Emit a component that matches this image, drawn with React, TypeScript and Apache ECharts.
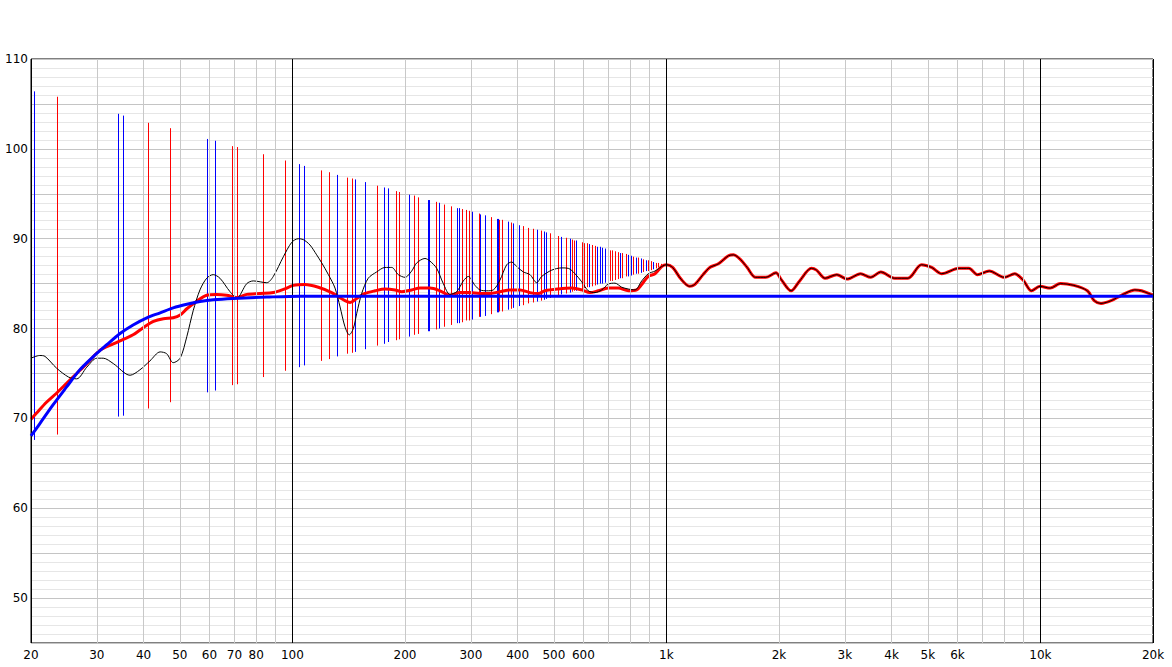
import React, { useEffect, useRef } from "react";
import * as echarts from "echarts";

// ---- data ----
// Shared response above 1 kHz (red and black coincide there)
const highBand: [number, number][] = [
  [1000, 87.1], [1039, 86.8], [1094, 85.5], [1153, 84.7], [1190, 84.9], [1253, 86.0], [1306, 86.8],
  [1377, 87.2], [1465, 88.1], [1512, 88.2], [1576, 87.7], [1644, 86.8], [1731, 85.7], [1843, 85.7],
  [1963, 86.2], [2024, 85.5], [2155, 84.2], [2271, 85.3], [2442, 86.7], [2520, 86.5], [2656, 85.6],
  [2855, 86.0], [3040, 85.5], [3304, 86.1], [3518, 85.7], [3743, 86.3], [4071, 85.6], [4424, 85.6],
  [4809, 87.1], [5118, 86.8], [5449, 86.1], [6047, 86.7], [6439, 86.7], [6785, 86.0], [7297, 86.4],
  [8013, 85.7], [8533, 86.1], [8990, 85.4], [9467, 84.2], [9975, 84.7], [10621, 84.5], [11304, 85.0],
  [12290, 84.8], [13356, 84.2], [13927, 83.1], [14522, 82.8], [15455, 83.1], [16456, 83.7],
  [17882, 84.3], [18645, 84.2], [20000, 83.7],
];

// Raw measurement (thin black) below 1 kHz
const blackLow: [number, number][] = [
  [20, 76.7], [21.1, 77.0], [21.8, 76.9], [23.4, 75.6], [25.2, 74.6], [26.5, 74.4], [28.2, 75.7],
  [30.0, 76.7], [31.2, 76.7], [33.2, 76.1], [36.8, 74.8], [39.1, 75.4], [41.6, 76.4], [44.3, 77.4],
  [46.1, 77.2], [48.0, 76.2], [50.1, 76.7], [52.2, 79.1], [54.3, 82.0], [56.6, 84.3], [59.0, 85.6],
  [61.4, 86.0], [64.0, 85.6], [68.1, 84.1], [71.0, 83.4], [75.5, 85.0], [78.6, 85.3], [85.4, 85.1],
  [88.9, 85.8], [94.6, 88.0], [99.6, 89.6], [103.7, 90.0], [106.9, 89.9], [111.4, 89.3], [116.1, 88.2],
  [119.8, 87.3], [124.8, 86.0], [130.0, 84.5], [134.1, 82.4], [138.2, 80.2], [141.9, 79.3], [145.5, 80.0],
  [148.6, 81.7], [153.2, 83.9], [159.5, 85.6], [168.0, 86.3], [176.8, 86.8], [184.3, 86.8], [191.9, 86.0],
  [200, 85.7], [208.4, 86.4], [214.9, 87.3], [226.2, 87.8], [233.3, 87.5], [243.1, 86.7], [253.2, 85.0],
  [263.8, 83.8], [275.0, 84.1], [286.4, 85.3], [295.3, 85.8], [307.8, 84.8], [317.3, 84.3], [330.8, 84.2],
  [344.5, 84.3], [358.9, 85.4], [374.1, 87.1], [385.8, 87.4], [397.8, 86.9], [414.3, 86.3], [431.7, 86.0],
  [450.0, 85.1], [464.1, 85.8], [493.6, 86.5], [524.8, 86.75], [546.6, 86.7], [569.6, 86.1], [593.7, 85.2],
  [618.1, 84.2], [644.3, 84.0], [671.4, 84.3], [699.1, 84.95], [728.7, 85.05], [759.4, 84.6], [790.9, 84.4],
  [824.3, 84.3], [859.0, 85.3], [894.5, 86.1], [932.2, 86.4], [971.4, 86.9],
];

// Corrected response (thick red) below 1 kHz
const redLow: [number, number][] = [
  [20, 69.9], [20.7, 70.6], [22.0, 71.8], [23.4, 72.8], [24.9, 73.9], [26.5, 75.0], [28.2, 76.1],
  [30.6, 77.6], [33.2, 78.3], [35.3, 78.8], [37.5, 79.3], [39.9, 80.1], [42.5, 80.8], [45.2, 81.1],
  [48.0, 81.2], [50.1, 81.5], [52.2, 82.2], [55.5, 83.05], [59.0, 83.7], [62.7, 83.8], [66.7, 83.7],
  [71.0, 83.45], [75.5, 83.8], [81.9, 83.9], [88.9, 84.0], [94.6, 84.35], [100.6, 84.8], [108.0, 84.9],
  [117.3, 84.6], [127.4, 84.0], [132.6, 83.55], [138.2, 83.1], [142.6, 82.9], [148.6, 83.35], [156.3, 83.9],
  [166.3, 84.2], [176.8, 84.4], [188.1, 84.3], [196.0, 84.1], [208.4, 84.3], [219.3, 84.5], [233.3, 84.5],
  [248.1, 84.2], [263.8, 83.7], [280.6, 84.0], [298.4, 84.0], [317.3, 83.9], [337.5, 83.9], [358.9, 84.1],
  [381.7, 84.3], [406.0, 84.3], [431.7, 84.0], [454.4, 83.9], [473.5, 84.2], [514.0, 84.4], [558.2, 84.5],
  [593.7, 84.3], [624.6, 84.0], [657.3, 84.2], [699.1, 84.5], [743.6, 84.5], [790.9, 84.2], [832.9, 84.3],
  [859.0, 84.9], [894.5, 85.8], [932.2, 86.1], [971.4, 86.9],
];

// Target curve (thick blue)
const blueTarget: [number, number][] = [
  [20, 68.05], [21.1, 69.4], [22.9, 71.5], [24.9, 73.5], [27.0, 75.4], [29.3, 76.85], [31.9, 78.2],
  [34.6, 79.45], [37.5, 80.4], [40.8, 81.2], [44.3, 81.75], [48.0, 82.3], [52.2, 82.7], [56.6, 83.0],
  [61.4, 83.2], [69.5, 83.35], [85.4, 83.5], [104.8, 83.6], [20000, 83.6],
];

// Filter stems: [frequency, low dB, high dB]
const blueStems: [number, number, number][] = [
  [20.4, 67.6, 106.4], [34.2, 70.2, 103.9], [35.3, 70.3, 103.7], [59.2, 72.9, 101.1], [62.2, 73.1, 100.9],
  [104.3, 75.7, 98.3], [107.6, 75.9, 98.1], [131.8, 76.9, 97.1], [147.3, 77.4, 96.6], [156.6, 77.7, 96.3],
  [176.1, 78.3, 95.7], [180.5, 78.5, 95.6], [205.4, 79.1, 94.9], [230.1, 79.7, 94.3], [232.3, 79.7, 94.3],
  [247.1, 80.0, 94.0], [276.0, 80.6, 93.4], [279.4, 80.6, 93.4], [302.7, 81.0, 93.0], [318.0, 81.3, 92.7],
  [328.0, 81.4, 92.6], [353.1, 81.8, 92.2], [355.3, 81.8, 92.2], [377.8, 82.1, 91.9], [389.6, 82.3, 91.7],
  [402.8, 82.5, 91.5], [450.0, 83.0, 91.0], [469.8, 83.2, 90.8], [476.5, 83.3, 90.7], [523.6, 83.8, 90.2],
  [551.4, 84.0, 90.0], [574.3, 84.2, 89.8], [622.1, 84.6, 89.4], [653.5, 84.9, 89.1], [663.2, 85.0, 89.1],
  [673.9, 85.0, 89.0], [684.0, 85.1, 88.9], [751.5, 85.6, 88.4], [790.9, 85.8, 88.2], [802.7, 85.9, 88.1],
  [827.8, 86.1, 87.9], [855.2, 86.2, 87.8], [880.3, 86.4, 87.6], [922.5, 86.6, 87.4], [979.2, 86.9, 87.1],
];
const redStems: [number, number, number][] = [
  [23.4, 68.2, 105.8], [41.2, 71.1, 102.9], [47.2, 71.8, 102.3], [69.1, 73.7, 100.3], [71.2, 73.8, 100.2],
  [83.6, 74.6, 99.4], [95.7, 75.3, 98.7], [119.5, 76.4, 97.6], [125.5, 76.6, 97.4], [140.2, 77.2, 96.8],
  [144.1, 77.3, 96.7], [168.6, 78.1, 95.9], [189.6, 78.7, 95.3], [193.1, 78.8, 95.2], [211.8, 79.3, 94.8],
  [217.1, 79.4, 94.6], [242.6, 79.9, 94.1], [254.8, 80.2, 93.8], [266.0, 80.4, 93.6], [283.6, 80.7, 93.3],
  [291.7, 80.9, 93.2], [297.2, 80.9, 93.1], [316.0, 81.3, 92.8], [340.3, 81.6, 92.4], [357.5, 81.9, 92.1],
  [363.4, 81.9, 92.1], [383.4, 82.2, 91.8], [414.3, 82.6, 91.4], [427.3, 82.8, 91.2], [439.8, 82.9, 91.1],
  [461.2, 83.1, 90.9], [489.3, 83.4, 90.6], [514.0, 83.7, 90.3], [539.0, 83.9, 90.1], [558.3, 84.1, 89.9],
  [566.2, 84.2, 89.8], [593.7, 84.4, 89.6], [602.1, 84.5, 89.5], [612.2, 84.6, 89.5], [633.7, 84.7, 89.3],
  [644.3, 84.8, 89.2], [696.7, 85.2, 88.8], [705.3, 85.3, 88.7], [716.7, 85.3, 88.7], [728.7, 85.4, 88.6],
  [740.9, 85.5, 88.5], [762.2, 85.6, 88.4], [778.3, 85.8, 88.3], [815.6, 86.0, 88.0], [841.1, 86.1, 87.9],
  [867.4, 86.3, 87.7], [894.5, 86.4, 87.6], [909.5, 86.5, 87.5], [936.3, 86.7, 87.3], [951.4, 86.8, 87.3],
  [967.2, 86.8, 87.2],
];

// Axis grid & tick labels
const minorGridFreqs = [
  30, 40, 50, 60, 70, 80, 90, 200, 300, 400, 500, 600, 700, 800, 900,
  2000, 3000, 4000, 5000, 6000, 7000, 8000, 9000,
];
const majorGridFreqs = [100, 1000, 10000];
const edgeFreqs = [20, 20000];
const xTickValues = [20, 30, 40, 50, 60, 70, 80, 100, 200, 300, 400, 500, 600, 1000, 2000, 3000, 4000, 5000, 6000, 10000, 20000];
const xTickLabels = ["20", "30", "40", "50", "60", "70", "80", "100", "200", "300", "400", "500", "600", "1k", "2k", "3k", "4k", "5k", "6k", "10k", "20k"];

const FONT = "'DejaVu Sans', sans-serif";

function labelFor(f: number): string | null {
  const i = xTickValues.indexOf(f);
  return i >= 0 ? xTickLabels[i] : null;
}

function stemSeries(data: [number, number, number][], color: string) {
  return {
    type: "custom",
    z: 2,
    silent: true,
    clip: true,
    encode: { x: 0, y: [1, 2] },
    data,
    renderItem: (_params: any, api: any) => {
      const f = api.value(0);
      const p1 = api.coord([f, api.value(1)]);
      const p2 = api.coord([f, api.value(2)]);
      const x = Math.round(p1[0]) + 0.5;
      return {
        type: "line",
        shape: { x1: x, y1: p1[1], x2: x, y2: p2[1] },
        style: { stroke: color, lineWidth: 1 },
      };
    },
  };
}

export default function App() {
  const ref = useRef<HTMLDivElement>(null);

  useEffect(() => {
    if (!ref.current) return;
    const chart = echarts.init(ref.current, undefined, { renderer: "svg" });

    const gridLines: any[] = [];
    const all = [
      ...edgeFreqs.map((f) => ({ f, color: "#000000" })),
      ...minorGridFreqs.map((f) => ({ f, color: "#c8c8c8" })),
      ...majorGridFreqs.map((f) => ({ f, color: "#000000" })),
    ];
    all.forEach(({ f, color }) => {
      const lab = labelFor(f);
      gridLines.push({
        xAxis: f,
        lineStyle: { color, width: 1, type: "solid" },
        label: lab
          ? { show: true, formatter: lab, position: "start", distance: 6, color: "#000", fontSize: 12, fontFamily: FONT }
          : { show: false },
      });
    });

    chart.setOption({
      animation: false,
      backgroundColor: "#ffffff",
      grid: {
        left: 31,
        right: 19,
        top: 59,
        bottom: 24,
        show: true,
        borderColor: "#000000",
        borderWidth: 1,
        backgroundColor: "transparent",
        containLabel: false,
      },
      xAxis: {
        type: "log",
        logBase: 10,
        min: 20,
        max: 20000,
        axisLine: { show: false },
        axisTick: { show: false },
        axisLabel: { show: false },
        splitLine: { show: false },
      },
      yAxis: {
        type: "value",
        min: 45,
        max: 110,
        interval: 5,
        axisLine: { show: false },
        axisTick: { show: false },
        axisLabel: {
          margin: 3,
          color: "#000",
          fontSize: 12,
          fontFamily: FONT,
          formatter: (v: number) => (v % 10 === 0 ? String(v) : ""),
        },
        splitLine: { show: true, lineStyle: { color: "#c4c4c4", width: 1 } },
        minorTick: { show: false, splitNumber: 5 },
        minorSplitLine: { show: true, lineStyle: { color: "#e6e6e6", width: 1 } },
      },
      series: [
        {
          type: "line",
          name: "grid",
          z: 1,
          silent: true,
          data: [],
          markLine: {
            silent: true,
            symbol: ["none", "none"],
            animation: false,
            data: gridLines,
          },
        },
        stemSeries(redStems, "#ff0000"),
        stemSeries(blueStems, "#0000ff"),
        {
          type: "line",
          name: "corrected",
          z: 3,
          silent: true,
          showSymbol: false,
          smooth: 0.3,
          data: [...redLow, ...highBand],
          lineStyle: { color: "#ff0000", width: 3 },
        },
        {
          type: "line",
          name: "measured",
          z: 4,
          silent: true,
          showSymbol: false,
          smooth: 0.3,
          data: [...blackLow, ...highBand],
          lineStyle: { color: "#000000", width: 1 },
        },
        {
          type: "line",
          name: "target",
          z: 5,
          silent: true,
          showSymbol: false,
          smooth: 0.3,
          data: blueTarget,
          lineStyle: { color: "#0000ff", width: 3 },
        },
      ],
    });

    return () => chart.dispose();
  }, []);

  return (
    <div
      ref={ref}
      style={{ position: "fixed", left: 0, top: 0, width: 1172, height: 667, background: "#fff" }}
    />
  );
}
